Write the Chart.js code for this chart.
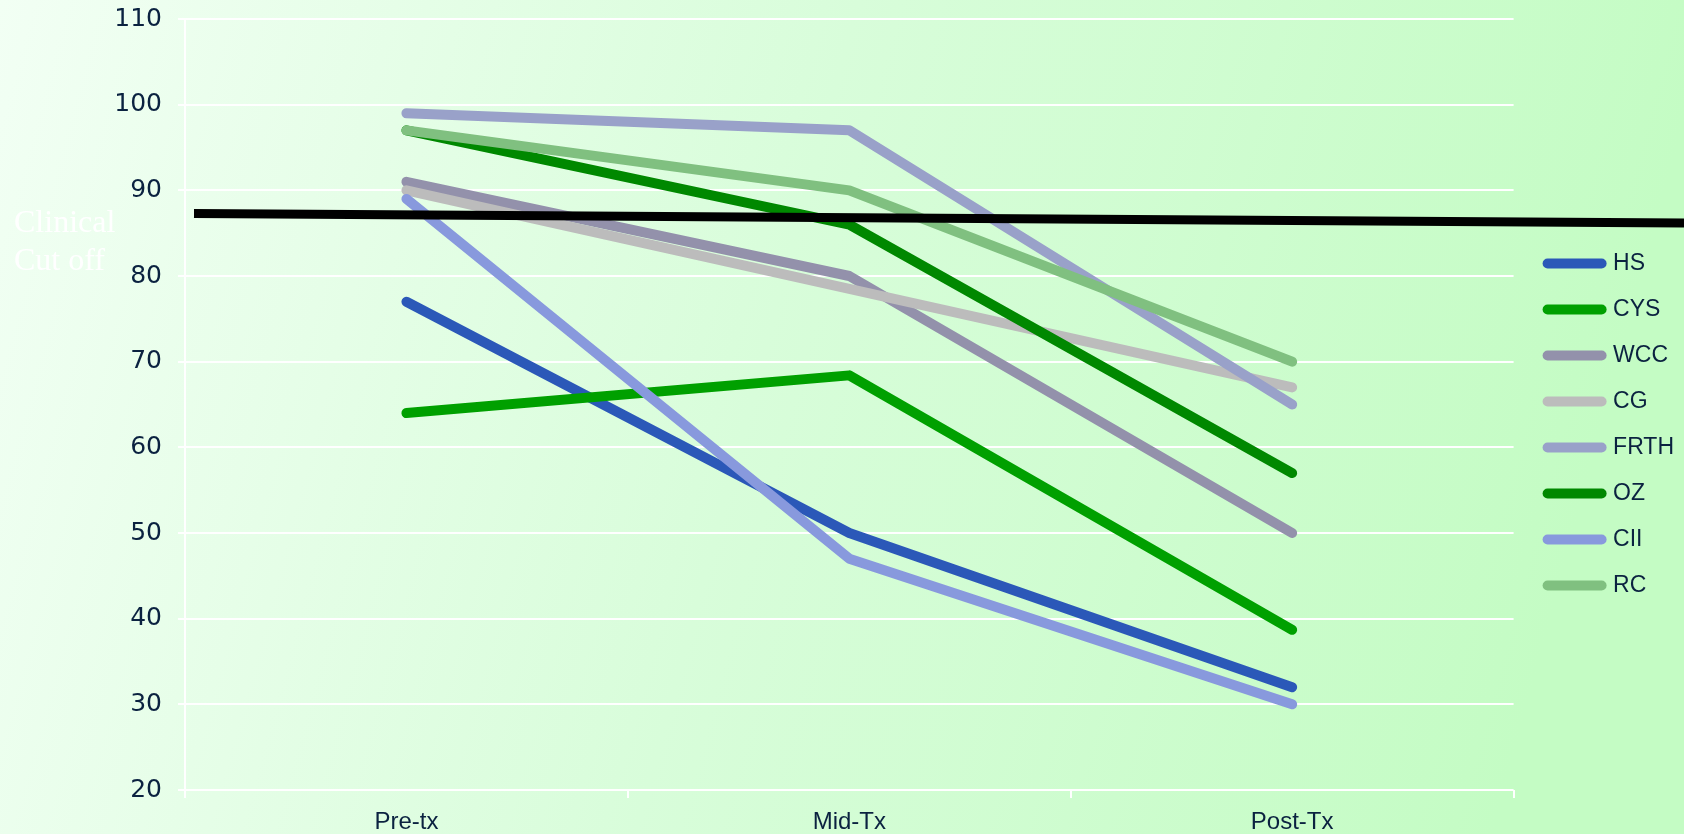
<!DOCTYPE html>
<html lang="en">

<head>
    <meta charset="UTF-8">
    <title>Clinical Cut off</title>
    <style>
        html, body {
            margin: 0;
            padding: 0;
            overflow: hidden;
        }

        body {
            width: 1684px;
            height: 834px;
            background: linear-gradient(105deg, #f2fff4 0%, #d8fdda 45%, #c4fcc4 90%);
        }

        canvas {
            display: block;
        }
    </style>
</head>

<body>
    <canvas id="lineChart" width="1684" height="834"></canvas>
    <script src="https://cdn.jsdelivr.net/npm/chart.js@4/dist/chart.umd.min.js"></script>
    <script>
        const categories = ['Pre-tx', 'Mid-Tx', 'Post-Tx'];

        const seriesNames = ['HS', 'CYS', 'WCC', 'CG', 'FRTH', 'OZ', 'CII', 'RC'];
        const hs = [77, 50, 32];
        const cys = [64, 68.4, 38.7];
        const wcc = [91, 80, 50];
        const cg = [90, 78.5, 67];
        const frth = [99, 97, 65];
        const oz = [97, 86, 57];
        const cii = [89, 47, 30];
        const rc = [97, 90, 70];
        const seriesValues = [hs, cys, wcc, cg, frth, oz, cii, rc];
        const seriesColors = ['#2b58b8', '#00a000', '#9391ab', '#bcbcbc', '#99a1c9', '#008800', '#8899dd', '#80c080'];

        // clinical cut off line: value at the plot's left edge and at the canvas' right edge
        const cutoffStart = 87.3;
        const cutoffEnd = 86.2;
        const cutoffLabel = ['Clinical', 'Cut off'];

        const tickColor = '#0b2240';
        const sansFont = '"Liberation Sans", Arial, sans-serif';

        const datasets = seriesNames.map((name, i) => ({
            label: name,
            data: seriesValues[i],
            borderColor: seriesColors[i],
            backgroundColor: seriesColors[i],
            borderWidth: 10,
            borderCapStyle: 'round',
            borderJoinStyle: 'round',
            pointRadius: 0,
            tension: 0,
            order: -i // later series on top, like the original
        }));

        // black cut off line and its white label
        const cutoffPlugin = {
            id: 'cutoff',
            afterDatasetsDraw(chart) {
                const ctx = chart.ctx;
                const y = chart.scales.y;
                const x0 = chart.chartArea.left + 9;
                const x1 = chart.width;
                const y0 = y.getPixelForValue(cutoffStart);
                const y1 = y.getPixelForValue(cutoffEnd);
                ctx.save();
                ctx.strokeStyle = '#000000';
                ctx.lineWidth = 9;
                ctx.beginPath();
                ctx.moveTo(x0, y0);
                ctx.lineTo(x1, y1);
                ctx.stroke();

                ctx.fillStyle = '#ffffff';
                ctx.font = '32px "Liberation Serif", "Times New Roman", serif';
                ctx.textAlign = 'left';
                ctx.textBaseline = 'alphabetic';
                ctx.fillText(cutoffLabel[0], 14, y0 + 19);
                ctx.fillText(cutoffLabel[1], 14, y0 + 57);
                ctx.restore();
            }
        };

        const ctx = document.getElementById('lineChart').getContext('2d');
        new Chart(ctx, {
            type: 'line',
            data: {
                labels: categories,
                datasets: datasets
            },
            plugins: [cutoffPlugin],
            options: {
                responsive: false,
                animation: false,
                layout: {
                    padding: 0
                },
                plugins: {
                    tooltip: { enabled: false },
                    legend: {
                        position: 'right',
                        align: 'center',
                        title: {
                            display: true,
                            text: '',
                            font: { size: 10, lineHeight: 1 },
                            padding: { top: 5, bottom: 0 }
                        },
                        labels: {
                            usePointStyle: true,
                            pointStyle: 'line',
                            pointStyleWidth: 54,
                            padding: 23,
                            color: tickColor,
                            font: { family: sansFont, size: 23 },
                            sort: (a, b) => a.datasetIndex - b.datasetIndex,
                            generateLabels(chart) {
                                const items = Chart.defaults.plugins.legend.labels.generateLabels(chart);
                                items.forEach(item => {
                                    item.lineCap = 'round';
                                    item.lineWidth = 10;
                                });
                                return items;
                            }
                        }
                    }
                },
                scales: {
                    x: {
                        offset: true,
                        afterFit(scale) {
                            scale.height = 44;
                        },
                        grid: {
                            offset: true,
                            drawOnChartArea: false,
                            drawTicks: true,
                            tickLength: 8,
                            color: '#ffffff',
                            lineWidth: 2
                        },
                        border: { display: false },
                        ticks: {
                            color: tickColor,
                            padding: 12,
                            font: { family: sansFont, size: 24, lineHeight: 1 }
                        }
                    },
                    y: {
                        min: 20,
                        max: 110,
                        afterFit(scale) {
                            scale.width = 185;
                            scale.paddingTop = 19;
                            scale.paddingBottom = 0;
                        },
                        grid: {
                            color: '#ffffff',
                            lineWidth: 2,
                            tickLength: 7
                        },
                        border: { display: true, color: '#ffffff', width: 2 },
                        ticks: {
                            stepSize: 10,
                            color: tickColor,
                            padding: 16,
                            font: { family: '"DejaVu Sans", sans-serif', size: 25 }
                        }
                    },
                    gap: {
                        position: 'right',
                        display: true,
                        min: 0,
                        max: 1,
                        afterFit(scale) {
                            scale.width = 11;
                        },
                        grid: { display: false },
                        border: { display: false },
                        ticks: { display: false }
                    }
                }
            }
        });
    </script>
</body>

</html>
